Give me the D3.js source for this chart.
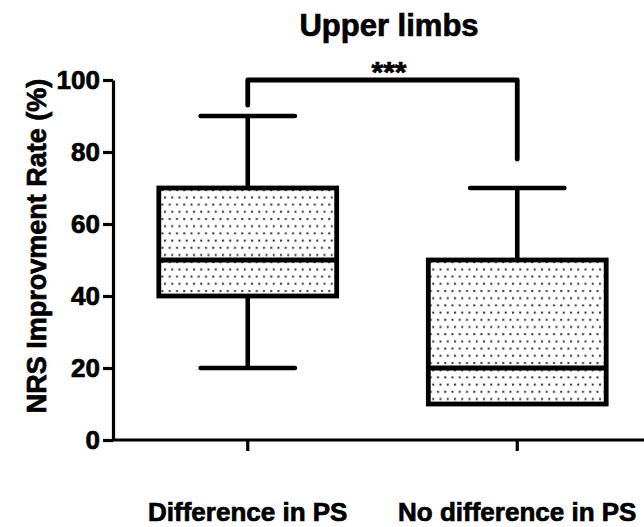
<!DOCTYPE html>
<html>
<head>
<meta charset="utf-8">
<script src="https://cdn.jsdelivr.net/npm/d3@7"></script>
<style>
  html, body { margin: 0; padding: 0; background: #fff; }
  svg { display: block; font-family: "Liberation Sans", Arial, sans-serif; }
  .heavy { stroke: #000; stroke-width: 0.7px; fill: #000; }
</style>
</head>
<body>
<svg id="chart" width="644" height="527"></svg>
<script>
// ---- data ----
const categories = ["Difference in PS", "No difference in PS"];
const mins    = [20, 10];
const q1s     = [40, 10];
const medians = [50, 20];
const q3s     = [70, 50];
const maxs    = [90, 70];
const yTicks  = [0, 20, 40, 60, 80, 100];
const bracketTop = 100;
const bracketEnds = [93, 78];
const sigLabel = "***";
const title = "Upper limbs";
const yTitle = "NRS Improvment Rate (%)";

const svg = d3.select("#chart");

const x = d3.scaleBand().domain(categories).range([113, 652]).padding(0);
const y = d3.scaleLinear().domain([0, 100]).range([440, 80]);
const cx = c => x(c) + x.bandwidth() / 2;
const boxW = x.bandwidth() * 0.66;
const capW = x.bandwidth() * 0.35;

// pattern
const defs = svg.append("defs");
const pat = defs.append("pattern")
  .attr("id", "dots").attr("patternUnits", "userSpaceOnUse")
  .attr("width", 7.25).attr("height", 14.4);
pat.append("rect").attr("x", 2).attr("y", 2).attr("width", 2).attr("height", 2).attr("fill", "#333");
pat.append("rect").attr("x", 4.5).attr("y", 9.2).attr("width", 2).attr("height", 2).attr("fill", "#333");

const data = categories.map((c, i) => ({c, min: mins[i], q1: q1s[i], med: medians[i], q3: q3s[i], max: maxs[i]}));

// axes
const yAxis = svg.append("g").attr("transform", "translate(113,0)")
  .call(d3.axisLeft(y).tickValues(yTicks).tickSize(10).tickSizeOuter(0).tickPadding(3));
const xAxis = svg.append("g").attr("transform", "translate(0,440)")
  .call(d3.axisBottom(x).tickSize(11).tickSizeOuter(0).tickFormat(""));
[yAxis, xAxis].forEach(g => {
  g.select(".domain").attr("stroke", "#000").attr("stroke-width", 3.2);
  g.selectAll(".tick line").attr("stroke", "#000").attr("stroke-width", 3.2);
});
yAxis.selectAll(".tick text")
  .attr("font-size", 26).attr("font-weight", "bold").attr("fill", "#000")
  .attr("class", "heavy")
  .attr("font-family", "Liberation Sans, Arial, sans-serif");
xAxis.select(".domain").attr("d", "M113,0H652");

// x category labels
svg.append("g").selectAll("text").data(categories).join("text")
  .attr("class", "heavy")
  .attr("x", d => cx(d)).attr("y", 521)
  .attr("text-anchor", "middle").attr("font-size", 26).attr("font-weight", "bold")
  .text(d => d);

// boxes
const g = svg.append("g");
const box = g.selectAll("g.box").data(data).join("g").attr("class", "box");
// whiskers
box.append("line")
  .attr("x1", d => cx(d.c)).attr("x2", d => cx(d.c))
  .attr("y1", d => y(d.max)).attr("y2", d => y(d.q3))
  .attr("stroke", "#000").attr("stroke-width", 4.6);
box.append("line")
  .attr("x1", d => cx(d.c)).attr("x2", d => cx(d.c))
  .attr("y1", d => y(d.min)).attr("y2", d => y(d.q1))
  .attr("stroke", "#000").attr("stroke-width", 4.6);
// caps
box.append("line")
  .attr("x1", d => cx(d.c) - capW / 2).attr("x2", d => cx(d.c) + capW / 2)
  .attr("y1", d => y(d.max)).attr("y2", d => y(d.max))
  .attr("stroke", "#000").attr("stroke-width", 4.6).attr("stroke-linecap", "round");
box.filter(d => d.min < d.q1).append("line")
  .attr("x1", d => cx(d.c) - capW / 2).attr("x2", d => cx(d.c) + capW / 2)
  .attr("y1", d => y(d.min)).attr("y2", d => y(d.min))
  .attr("stroke", "#000").attr("stroke-width", 4.6).attr("stroke-linecap", "round");
// rect
box.append("rect")
  .attr("x", d => cx(d.c) - boxW / 2).attr("width", boxW)
  .attr("y", d => y(d.q3)).attr("height", d => y(d.q1) - y(d.q3))
  .attr("fill", "url(#dots)").attr("stroke", "#000").attr("stroke-width", 4.8);
// median
box.append("line")
  .attr("x1", d => cx(d.c) - boxW / 2).attr("x2", d => cx(d.c) + boxW / 2)
  .attr("y1", d => y(d.med)).attr("y2", d => y(d.med))
  .attr("stroke", "#000").attr("stroke-width", 4.8);

// significance bracket
const bx1 = cx(categories[0]), bx2 = cx(categories[1]);
svg.append("path")
  .attr("d", `M${bx1},${y(bracketEnds[0])}V${y(bracketTop)}H${bx2}V${y(bracketEnds[1])}`)
  .attr("fill", "none").attr("stroke", "#000").attr("stroke-width", 4.8)
  .attr("stroke-linecap", "round").attr("stroke-linejoin", "round");
svg.append("text")
  .attr("class", "heavy")
  .attr("x", 389).attr("y", 82).attr("text-anchor", "middle")
  .attr("font-size", 30).attr("font-weight", "bold").text(sigLabel);

// title
svg.append("text")
  .attr("class", "heavy")
  .attr("x", 389).attr("y", 36).attr("text-anchor", "middle")
  .attr("font-size", 31).attr("font-weight", "bold").text(title);

// y title
svg.append("text")
  .attr("class", "heavy")
  .attr("transform", `translate(46,246) rotate(-90)`)
  .attr("text-anchor", "middle").attr("font-size", 27).attr("font-weight", "bold")
  .text(yTitle);
</script>
</body>
</html>
